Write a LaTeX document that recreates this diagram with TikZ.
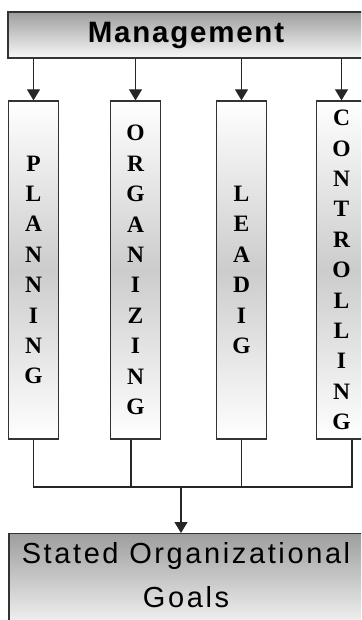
\documentclass[tikz,border=0pt]{standalone}
\usepackage{fontspec}
\setmainfont{Liberation Serif}
\setsansfont{Liberation Sans}
\usetikzlibrary{arrows.meta}
\begin{document}
\begin{tikzpicture}[x=1pt,y=-1pt,
  col/.style={draw=black!80, line width=1.3pt, minimum width=50pt, minimum height=338pt,
    inner sep=0pt, align=center, top color=white, bottom color=white, middle color=black!20,
    font=\bfseries\fontsize{23.5}{30.4}\selectfont},
  hbox/.style={draw=black!80, line width=1.3pt, top color=black!38, bottom color=black!3},
  conn/.style={line width=1.2pt, draw=black!85},
  arr/.style={conn, -{Triangle[width=13pt,length=11pt]}}
]
\clip (0,0) rectangle (361,620);
\fill[white] (0,0) rectangle (361,620);
\node[hbox, minimum width=356pt, minimum height=46pt, inner sep=0pt,
  font=\sffamily\bfseries\fontsize{29.5}{30}\selectfont\addfontfeature{LetterSpace=6}] (m) at (186,35) {Management};
\node[col] (p) at (33.5,270) {P\\L\\A\\N\\N\\I\\N\\G};
\node[col] (o) at (135.5,270) {O\\R\\G\\A\\N\\I\\Z\\I\\N\\G};
\node[col] (l) at (241.5,270) {L\\E\\A\\D\\I\\G};
\node[col] (c) at (341.5,270) {C\\O\\N\\T\\R\\O\\L\\L\\I\\N\\G};
\node[hbox, anchor=north, minimum width=354pt, inner xsep=0pt, inner ysep=9pt, align=center,
  font=\sffamily\fontsize{29}{44}\selectfont\addfontfeature{LetterSpace=9}] (g) at (186,533)
  {Stated Organizational\\Goals\rule[-14pt]{0pt}{0pt}};
\foreach \n in {p,o,l,c} \draw[arr] (\n.north |- m.south) -- (\n.north);
\coordinate (j) at (181,487);
\coordinate (ob) at ([xshift=-4.5pt]o.south);
\coordinate (cb) at ([xshift=10.5pt]c.south);
\draw[conn] (p.south) -- (p.south |- j) -- (cb |- j) -- (cb);
\draw[conn] (ob) -- (ob |- j);
\draw[conn] (l.south) -- (l.south |- j);
\draw[arr] (j) -- (j |- g.north);
\end{tikzpicture}
\end{document}
